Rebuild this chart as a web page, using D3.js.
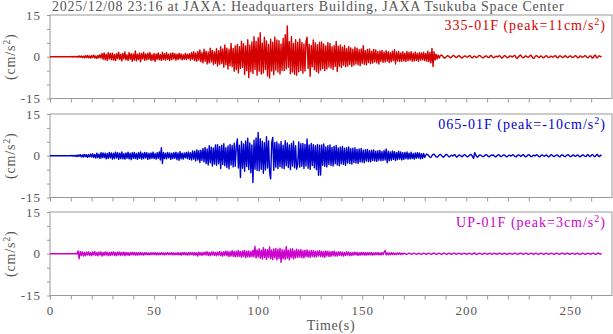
<!DOCTYPE html>
<html>
<head>
<meta charset="utf-8">
<script src="https://cdn.jsdelivr.net/npm/d3@7"></script>
<style>
  body { margin: 0; background: #fff; }
  svg { display: block; font-family: "Liberation Serif", "Times New Roman", serif; }
</style>
</head>
<body>
<div id="chart"></div>
<script>
// Sampling interval of the traces (s)
const dt = 0.5;

// 335-01F trace, cm/s^2, one value per 0.5 s
const ch335 = [
  0,0,0,0,0,0,0,0,0,0,0,0,0,0,0,0,0,0,0,0,
  0,0.1,-0.1,0.1,0,-0.1,0.2,-0.2,0.3,-0.2,0.3,-0.3,0.2,-0.4,0.4,-0.3,0.5,-0.4,0.3,-0.5,
  0.4,-0.3,0.6,-0.5,0.3,-0.6,0.5,-0.4,0.7,-0.5,1.2,-0.9,1.4,-1.1,0.9,-1.3,1.5,-0.8,1.2,-1.0,
  1.3,-1.2,0.8,-1.4,1.1,-0.7,1.6,-1.0,0.9,-1.5,1.2,-0.8,1.7,-1.1,0.7,-1.3,1.5,-0.9,1.1,-1.6,
  1.0,-1.2,2.1,-1.5,0.9,-1.0,1.4,-1.8,1.2,-0.8,1.6,-1.3,1.0,-1.1,1.3,-0.9,1.5,-1.4,0.8,-1.2,
  1.2,-1.7,1.0,-0.9,1.4,-1.1,0.8,-1.3,1.6,-1.0,1.1,-1.2,1.5,-0.9,0.9,-1.4,1.2,-1.0,1.4,-0.8,
  1.1,-1.2,0.9,-1.0,1.3,-0.8,1.0,-1.1,0.7,-0.9,1.2,-1.0,0.9,-0.7,1.1,-1.2,1.5,-0.9,1.8,-1.4,
  1.4,-1.6,1.9,-1.2,2.4,-1.8,1.5,-2.2,2.7,-1.6,2.0,-2.6,1.7,-2.2,3.1,-1.9,2.3,-2.8,1.8,-2.4,
  2.9,-3.3,2.2,-2.7,3.6,-2.4,2.8,-3.8,4.2,-2.9,3.1,-4.4,2.6,-3.2,4.8,-3.6,3.0,-5.2,3.9,-4.6,
  4.4,-5.8,3.6,-4.2,5.6,-3.8,4.7,-6.4,3.9,-5.0,6.1,-7.5,4.2,-5.4,5.3,-6.0,7.2,-4.6,5.5,-6.6,
  6.8,-5.2,8.6,-6.2,4.9,-5.8,7.0,-4.6,5.7,-6.9,4.4,-7.6,6.3,-5.1,5.2,-6.5,7.1,-4.8,6.0,-5.5,
  5.8,-6.2,4.6,-4.9,6.6,-5.0,7.9,-4.4,11.1,-3.8,5.4,-6.1,7.2,-5.5,4.8,-6.3,6.1,-6.6,5.2,-5.4,
  6.4,-4.9,5.1,-5.9,4.6,-5.1,5.5,7.0,-4.2,4.5,-7.0,4.1,-3.6,6.0,-4.7,5.0,-5.3,4.3,-5.8,5.2,
  -4.8,5.3,-4.2,4.6,-5.0,3.9,-4.4,5.1,-3.7,4.8,-4.1,3.6,-4.6,4.0,-3.5,5.5,-5.3,3.8,-3.4,4.2,
  -3.9,3.4,-3.0,4.1,-3.6,2.9,-3.3,3.7,-2.8,3.2,-3.5,2.7,-3.0,3.4,-2.6,3.1,-2.9,2.5,-3.2,2.8,
  -2.4,4.0,-2.7,2.2,-2.9,2.6,-2.1,2.8,-2.5,2.0,-2.3,2.6,-1.9,2.4,-2.2,1.8,-2.6,2.1,-1.7,2.3,
  -2.0,1.7,-1.9,2.2,-1.6,1.8,-2.1,1.5,-1.8,2.0,-1.4,2.5,-2.6,1.7,-1.5,1.9,-1.7,1.4,-1.6,1.8,
  -1.5,1.3,-1.7,1.9,-1.4,1.6,-1.2,1.8,-1.6,1.3,-1.5,1.7,-1.3,1.2,-1.6,1.5,-1.2,1.4,-1.1,1.6,
  -1.4,1.2,-1.6,2.0,-1.8,1.5,-2.2,3.0,-3.5,1.8,-1.2,0.9,-0.8,0.6,-0.5,0.4,0.6,0.4,-0.2,-0.5,
  -0.3,0.1,0.4,0.2,-0.2,-0.4,0.0,0.3,0.5,0.1,-0.3,-0.2,0.2,0.4,0.1,-0.3,-0.5,-0.1,0.2,0.3,
  0.0,-0.2,0.1,0.4,0.3,-0.3,-0.4,0.1,0.2,-0.1,-0.3,0.0,0.4,0.5,0.1,-0.2,-0.4,-0.2,0.2,0.3,
  0.1,-0.3,-0.2,0.3,0.5,0.0,-0.4,-0.3,0.1,0.2,-0.1,0.2,0.4,0.0,-0.5,-0.3,0.2,0.4,0.1,-0.2,
  -0.4,0.0,0.3,0.2,-0.1,0.1,0.5,0.3,-0.4,-0.6,-0.1,0.3,0.6,0.2,-0.3,-0.4,0.0,0.3,0.1,-0.2,
  -0.1,0.3,0.6,0.1,-0.5,-0.6,0.0,0.4,0.3,-0.1,-0.3,0.1,0.3,-0.1,-0.4,-0.2,0.2,0.4,0.0,-0.3,
  -0.2,0.2,0.1,-0.2,0.0,0.4,0.3,-0.3,-0.4,0.1,0.3,0.2,-0.2,-0.3,0.1,0.4,0.1,-0.3,-0.2,0.2,
  0.3,0.0,-0.3,-0.1,0.2,0.4,0.1,-0.4,-0.3,0.2,0.3,-0.1,-0.2,0.1,0.4,0.2,-0.3,-0.4,0.0,0.3,
  0.2,-0.5,-0.3,0.4,0.6,-0.3,-0.4,0.2,0.3,0.0,0.1
];

// 065-01F trace
const ch065 = [
  0,0,0,0,0,0,0,0,0,0,0,0,0,0,0,0,0,0,0,0,
  0,0.1,-0.1,0.1,-0.2,0.2,-0.3,0.3,-0.2,0.4,-0.4,0.3,-0.5,0.5,-0.3,0.4,-0.6,0.5,-0.4,0.6,
  -0.5,0.7,-0.6,0.5,-0.8,0.9,-0.7,0.6,-0.9,1.1,-0.8,1.0,-0.7,0.9,-1.1,0.8,-0.9,1.2,-0.8,1.0,
  -1.2,0.9,-1.0,1.3,-0.8,1.1,-1.3,0.9,-1.0,1.4,-1.1,0.8,-1.2,1.0,-0.9,1.3,-1.1,0.9,-1.4,1.1,
  -0.9,1.2,-1.0,0.8,-1.3,1.1,-0.9,1.4,-1.2,0.9,-1.0,1.2,-0.8,1.1,-1.3,0.9,-1.1,1.0,-0.9,1.3,
  -1.0,0.8,-1.2,1.1,-0.9,1.4,-1.5,2.9,-2.8,1.2,-1.0,0.9,-1.1,1.2,-0.8,1.0,-1.3,0.9,-1.0,1.1,
  -0.9,1.3,-1.4,1.0,-1.6,1.5,-1.1,0.9,-1.2,1.0,-0.8,1.2,-1.0,1.4,-1.3,1.1,-1.5,1.7,-1.2,1.6,
  -1.9,2.1,-1.5,1.8,-2.4,2.0,-1.7,2.6,-2.2,3.0,-2.8,2.4,-3.3,3.6,-2.5,3.1,-3.7,2.8,-3.0,3.9,
  -3.4,4.0,-2.9,3.3,-4.6,3.8,-3.1,4.3,-3.6,2.9,-4.2,3.5,-4.7,4.1,-3.3,3.7,-4.0,4.5,-3.8,3.2,
  6.0,-4.4,3.8,-7.8,5.1,-4.5,4.2,-5.6,5.3,-3.9,6.3,-5.0,4.6,-6.1,3.9,-9.6,5.6,-4.8,6.4,-5.3,
  8.4,-5.4,6.1,-4.9,5.2,-6.3,4.7,-5.1,6.8,-4.4,5.3,-6.0,-8.3,4.5,6.6,-5.2,4.8,-4.1,5.0,-4.6,
  4.2,-3.9,5.1,-4.4,3.8,-4.7,5.4,-3.6,4.6,-4.2,3.9,-5.0,4.4,-3.7,5.2,-4.3,3.6,-4.8,-3.2,5.0,
  -4.1,4.3,-3.8,4.4,-4.6,4.1,-3.7,6.0,-4.5,3.9,-4.9,4.4,-3.5,4.0,-4.3,3.6,-5.0,4.1,-7.0,3.8,
  -6.9,3.9,-3.4,4.2,-3.8,3.2,-4.0,3.6,-3.1,3.9,-3.5,3.0,-3.7,3.4,-2.9,3.7,-3.3,2.8,-3.6,3.1,
  -2.9,3.3,-3.1,2.7,-3.4,2.9,-2.6,3.2,-2.8,2.5,-3.0,2.7,-2.4,2.9,-2.6,2.3,-2.8,2.4,-2.2,2.6,
  -2.3,2.0,-2.5,2.2,-1.9,2.3,-2.1,1.8,-2.2,2.0,-1.7,2.1,-1.9,1.6,-2.0,1.8,-1.6,1.9,-1.8,1.5,
  -1.7,1.9,-1.5,2.4,-2.5,1.6,-1.8,1.4,-1.6,1.7,-1.3,1.5,-1.7,1.2,-1.4,1.6,-1.2,1.4,-1.5,1.1,
  -1.3,1.2,-1.0,1.4,-1.2,0.9,-1.1,1.3,-1.0,0.8,-1.2,1.0,-0.9,1.1,-0.8,1.0,-1.1,0.7,-0.9,0.8,
  -0.6,0.2,0.6,0.4,-0.1,-0.5,-0.6,0.0,0.5,0.6,0.1,-0.4,-0.5,-0.2,0.3,0.5,0.2,-0.3,-0.5,-0.2,
  0.3,0.5,0.2,-0.3,-0.4,0.0,0.2,-0.1,0.3,0.4,-0.2,-0.5,-0.1,0.3,0.2,-0.1,-0.4,0.0,0.4,0.3,
  -0.1,-0.4,-0.2,0.2,0.5,0.3,-0.3,-1.0,1.1,0.4,-0.3,-0.5,0.0,0.3,0.2,-0.1,-0.3,-0.2,0.2,0.4,
  0.2,-0.2,-0.4,0.0,0.2,0.1,0.3,-0.1,-0.4,-0.2,0.2,0.4,0.1,-0.3,-0.2,0.1,0.3,0.2,-0.2,-0.4,
  -0.1,0.2,0.1,-0.1,0.2,0.4,0.0,-0.3,-0.4,0.1,0.3,0.2,-0.2,-0.1,0.3,0.4,-0.1,-0.4,-0.2,0.2,
  0.4,0.1,-0.3,-0.3,0.1,0.2,-0.1,0.2,0.4,0.0,-0.4,-0.3,0.2,0.3,0.0,-0.2,0.1,0.3,-0.1,-0.4,
  -0.2,0.3,0.4,0.0,-0.3,-0.1,0.1,0.3,0.1,-0.3,-0.4,0.1,0.3,0.2,-0.2,-0.3,0.0,0.3,0.4,0.0,
  -0.3,-0.2,0.2,0.3,-0.1,-0.2,0.1,0.3,0.0,-0.4,-0.2,0.2,0.3,0.1,-0.2,-0.3,0.2,0.4,-0.1,-0.3,
  0.1,0.4,0.2,-0.3,-0.2,0.3,0.5,-0.1,-0.3,0.2,0.0
];

// UP-01F trace
const chUP = [
  0,0,0,0,0,0,0,0,0,0,0,0,0,0,0,0,0,0,0,0,
  0,0,0,0,0,0.1,-0.1,1.0,-1.8,0.8,-0.6,0.7,-0.8,0.5,-0.7,0.6,-0.5,0.7,-0.6,0.5,
  -0.7,0.6,-0.5,0.8,-0.6,0.5,-0.7,0.6,-0.5,0.7,-0.8,0.5,-0.6,0.7,-0.5,0.6,-0.7,0.5,-0.6,0.6,
  -0.5,0.7,-0.6,0.5,-0.7,0.6,-0.5,0.6,-0.6,0.5,-0.5,0.6,-0.7,0.5,-0.5,0.4,-0.6,0.5,-0.4,0.5,
  -0.4,0.5,-0.5,0.4,-0.5,0.4,-0.4,0.5,-0.4,0.3,-0.5,0.4,-0.3,0.4,-0.4,0.3,-0.4,0.4,-0.3,0.4,
  -0.3,0.4,-0.4,0.3,-0.4,0.3,-0.3,0.4,-0.3,0.3,-0.4,0.3,-0.3,0.4,-0.3,0.3,-0.3,0.4,-0.4,0.3,
  -0.4,0.3,-0.3,0.4,-0.4,0.3,-0.5,0.4,-0.3,0.5,-0.4,0.3,-0.5,0.4,-0.4,0.5,-0.3,0.4,-0.5,0.4,
  -0.5,0.4,-0.8,0.6,-0.5,0.4,-0.6,0.5,-0.4,0.6,-0.5,0.7,-0.6,0.5,-0.7,0.6,-0.5,0.7,-0.6,0.5,
  -0.7,0.6,-0.5,0.8,-0.7,0.6,-0.8,0.7,-0.6,0.9,-0.7,0.8,-1.0,0.7,-0.8,1.1,-0.9,0.8,-1.1,0.9,
  -1.0,1.2,-0.9,0.8,-1.3,1.0,-0.9,1.2,-1.4,0.9,-1.1,1.0,-1.2,0.8,-1.0,1.3,-1.1,2.6,-1.5,1.4,
  -1.2,1.8,-1.6,1.3,-1.9,2.2,-1.4,1.6,-2.0,1.5,-1.3,2.4,-1.8,1.4,-2.1,1.7,-1.5,1.9,-2.2,1.6,
  -1.7,2.0,-3.1,1.5,-1.8,1.4,-2.0,2.6,-1.6,1.3,-2.2,1.7,-1.4,1.8,-1.9,1.2,-1.5,1.6,-1.3,1.4,
  -1.2,1.5,-1.4,1.1,-1.5,1.3,-1.0,1.4,-1.2,1.0,-1.3,1.2,-0.9,1.1,-1.2,0.9,-1.1,1.0,-0.8,1.1,
  -1.0,0.9,-1.1,0.8,-1.3,1.0,-0.8,0.9,-1.0,0.7,-0.9,0.8,-0.7,0.9,-0.8,0.6,-0.8,0.7,-0.6,0.7,
  -0.7,0.6,-0.8,0.5,-0.6,0.7,-0.5,0.6,-0.7,0.5,-0.6,0.5,-0.5,0.6,-0.4,0.5,-0.6,0.4,-0.5,0.5,
  -0.4,0.5,-0.5,0.4,-0.5,0.4,-0.4,0.5,-0.4,0.4,-0.5,0.3,-0.4,0.4,-0.3,0.4,-0.4,0.3,-0.4,0.4,
  -0.3,0.5,1.2,-0.4,0.3,-0.4,0.3,-0.3,0.4,-0.3,0.3,-0.3,0.2,-0.3,0.3,-0.2,0.3,-0.3,0.2,-0.2,
  0.2,0.1,-0.2,-0.2,0.0,0.2,0.1,-0.1,-0.2,0.1,0.2,0.0,-0.2,-0.1,0.1,0.2,-0.1,-0.2,0.0,0.2,
  0.1,-0.1,-0.2,0.1,0.2,0.0,-0.2,-0.1,0.1,0.3,0.0,-0.2,-0.1,0.1,0.2,0.0,-0.2,-0.1,0.1,0.2,
  0.0,-0.2,-0.1,0.2,0.1,-0.1,-0.2,0.0,0.2,0.1,-0.1,-0.2,0.1,0.2,0.0,-0.1,-0.2,0.1,0.2,0.0,
  -0.1,-0.2,0.1,0.2,0.0,-0.2,-0.1,0.1,0.3,-0.1,-0.2,-0.1,0.1,0.2,0.0,-0.2,-0.1,0.1,0.2,0.0,
  -0.2,-0.1,0.2,0.1,-0.1,-0.2,0.1,0.2,0.0,-0.1,-0.2,0.1,0.2,0.1,-0.2,-0.1,0.1,0.2,-0.1,-0.2,
  -0.1,0.1,0.2,0.0,-0.2,-0.1,0.2,0.2,0.0,-0.2,-0.1,0.1,0.2,0.1,-0.1,-0.2,0.0,0.2,0.1,-0.1,
  -0.2,0.0,0.2,0.1,-0.1,-0.2,0.1,0.2,0.0,-0.2,-0.1,0.1,0.2,0.0,-0.2,-0.1,0.1,0.2,0.0,-0.2,
  -0.1,0.1,0.2,0.0,-0.2,-0.1,0.1,0.2,0.0,-0.2,-0.1,0.1,0.2,0.1,-0.1,-0.2,0.1,0.2,0.0,-0.1,
  -0.2,0.1,0.2,0.0,-0.2,-0.1,0.1,0.2,-0.1,-0.2,-0.1,0.1,0.2,0.0,-0.2,-0.1,0.1,0.2,0.0,-0.1,
  -0.1,0.1,0.2,0.0,-0.2,-0.1,0.1,0.2,0.0,-0.1,0.0
];

const traces = [ch335, ch065, chUP];
const channelNames = ['335-01F', '065-01F', 'UP-01F'];
const peakValues = ['11', '-10', '3'];
const yTicks = [-15, -10, -5, 0, 5, 10, 15];
const yTickLabels = [-15, 0, 15];
const xTicks = [0, 10, 20, 30, 40, 50, 60, 70, 80, 90, 100, 110, 120, 130,
  140, 150, 160, 170, 180, 190, 200, 210, 220, 230, 240, 250, 260];
const xTickLabels = [0, 50, 100, 150, 200, 250];
const title = '2025/12/08 23:16 at JAXA: Headquarters Building, JAXA Tsukuba Space Center';

// styling / layout
const colors = ['#d40000', '#0000cc', '#cc00cc'],
  w = 613,
  h = 334,
  left = 50,
  right = 612,
  panelTop = [15, 114, 212],
  panelH = 83.5,
  grey = '#555',
  frameGrey = '#999';

const svg = d3.select('#chart').
  append('svg').
  attr('width', w).
  attr('height', h);

const x = d3.scaleLinear().domain([0, 270]).range([left, right]);

// title
svg.append('text').
  attr('x', 52).
  attr('y', 11).
  attr('fill', grey).
  style('font-size', '14px').
  style('letter-spacing', '0.75px').
  text(title);

traces.forEach((trace, i) => {
  let top = panelTop[i],
    y = d3.scaleLinear().domain([-15, 15]).range([top + panelH, top]),
    g = svg.append('g');

  // y axis, labels only at -15, 0, 15
  g.append('g').
    attr('transform', 'translate(' + left + ',0)').
    call(d3.axisLeft(y).
      tickValues(yTicks).
      tickSize(3).
      tickPadding(6).
      tickFormat(d => yTickLabels.includes(d) ? d : '')).
    call(a => a.select('.domain').remove()).
    call(a => a.selectAll('line').attr('stroke', frameGrey)).
    call(a => a.selectAll('text').
      attr('fill', grey).
      style('font-family', '"Liberation Serif", serif').
      style('font-size', '13px').
      style('letter-spacing', '1px'));

  // x axis ticks under each panel, labels only under the last one
  g.append('g').
    attr('transform', 'translate(0,' + (top + panelH) + ')').
    call(d3.axisBottom(x).
      tickValues(xTicks).
      tickSize(4).
      tickPadding(6).
      tickFormat(d => (i == 2 && xTickLabels.includes(d)) ? d : '')).
    call(a => a.select('.domain').remove()).
    call(a => a.selectAll('line').attr('stroke', frameGrey)).
    call(a => a.selectAll('text').
      attr('fill', grey).
      style('font-family', '"Liberation Serif", serif').
      style('font-size', '13px').
      style('letter-spacing', '1px'));

  // frame
  g.append('rect').
    attr('x', left).
    attr('y', top).
    attr('width', right - left).
    attr('height', panelH).
    attr('fill', 'none').
    attr('stroke', frameGrey);

  // waveform; slightly thick stroke so the dense part reads as a solid band
  let line = d3.line().
    x((d, j) => x(j * dt)).
    y(d => y(d));

  g.append('path').
    datum(trace).
    attr('d', line).
    attr('fill', 'none').
    attr('stroke', colors[i]).
    attr('stroke-width', 1.4).
    attr('stroke-linejoin', 'round');

  // channel label with superscript
  let lab = g.append('text').
    attr('x', 606).
    attr('y', top + 14.5).
    attr('text-anchor', 'end').
    attr('fill', colors[i]).
    style('font-size', '14px').
    style('letter-spacing', '1px');
  lab.append('tspan').text(channelNames[i] + ' (peak=' + peakValues[i] + 'cm/s');
  lab.append('tspan').attr('dy', -5).style('font-size', '10px').text('2');
  lab.append('tspan').attr('dy', 5).text(')');

  // y axis title
  let yl = g.append('text').
    attr('transform', 'translate(15,' + y(0) + ') rotate(-90)').
    attr('text-anchor', 'middle').
    attr('fill', grey).
    style('font-size', '14px').
    style('letter-spacing', '0.8px');
  yl.append('tspan').text('(cm/s');
  yl.append('tspan').attr('dy', -5).style('font-size', '10px').text('2');
  yl.append('tspan').attr('dy', 5).text(')');
});

// x axis title
svg.append('text').
  attr('x', 331).
  attr('y', 330).
  attr('text-anchor', 'middle').
  attr('fill', grey).
  style('font-size', '14px').
  style('letter-spacing', '0.7px').
  text('Time(s)');
</script>
</body>
</html>
